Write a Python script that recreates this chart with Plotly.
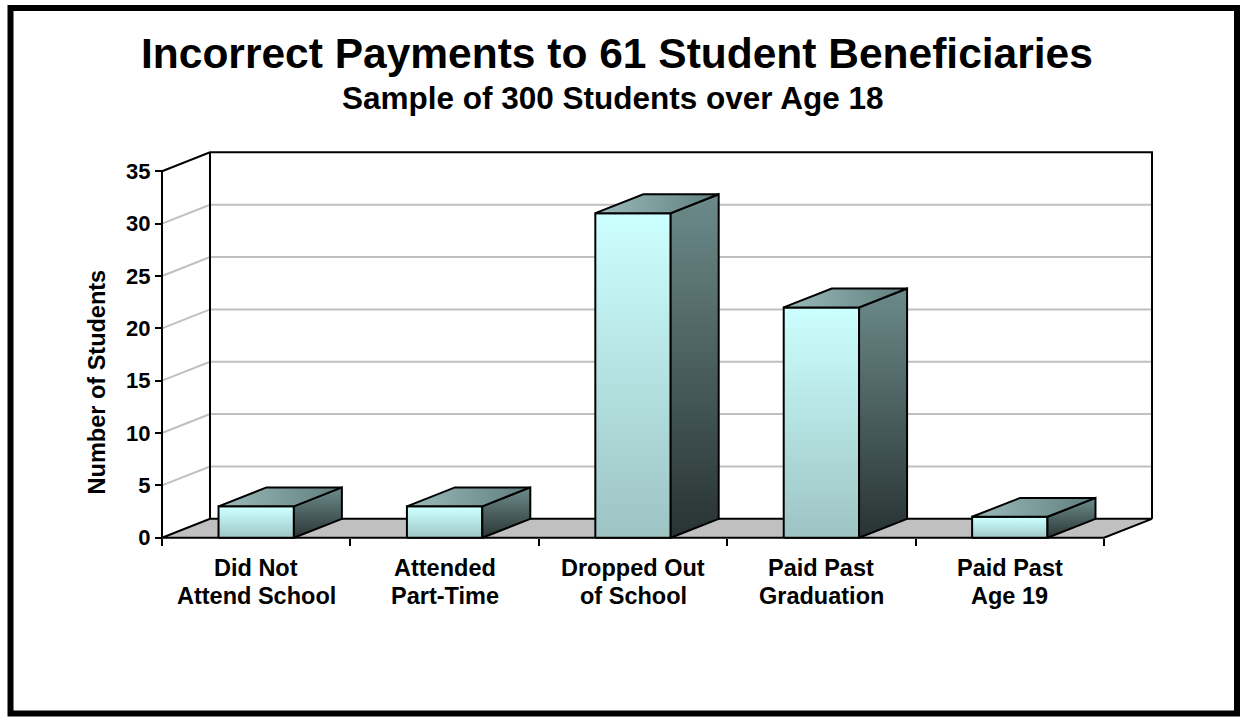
import plotly.graph_objects as go

# ---------------- data ----------------
categories_line1 = ["Did Not", "Attended", "Dropped Out", "Paid Past", "Paid Past"]
categories_line2 = ["Attend School", "Part-Time", "of School", "Graduation", "Age 19"]
students = [3, 3, 31, 22, 2]
y_ticks = [0, 5, 10, 15, 20, 25, 30, 35]
title = "Incorrect Payments to 61 Student Beneficiaries"
subtitle = "Sample of 300 Students over Age 18"
y_title = "Number of Students"

# ---------------- layout geometry (pixels) ----------------
W, H = 1241, 718
X0_PX, CAT_PX = 162, 188.4      # x=0 pixel, pixels per category
Y0_PX, UNIT_PX = 540, 10.514    # y=0 pixel, pixels per unit
DEPTH_X_PX, DEPTH_Y_PX = 48, 19
DOM_L, DOM_R, DOM_T, DOM_B = 150, 1165, 145, 550

N = len(students)
YMAX = y_ticks[-1]
dx = DEPTH_X_PX / CAT_PX
dy = DEPTH_Y_PX / UNIT_PX
BAR_W = 0.4

FONT = "Arial, Liberation Sans, sans-serif"
GRID = "#C0C0C0"

fig = go.Figure()


def poly(xs, ys, fill=None, line_color="black", width=2, grad=None, closed=True):
    if closed:
        xs = list(xs) + [xs[0]]
        ys = list(ys) + [ys[0]]
    kw = dict(x=xs, y=ys, mode="lines", line=dict(color=line_color, width=width),
              hoverinfo="skip", showlegend=False)
    if fill is not None or grad is not None:
        kw["fill"] = "toself"
        if fill is not None:
            kw["fillcolor"] = fill
        if grad is not None:
            kw["fillgradient"] = grad
    fig.add_trace(go.Scatter(**kw))


# floor
poly([0, N, N + dx, dx], [0, 0, dy, dy], fill=GRID)

# gridlines (left wall diagonals + back wall horizontals)
gx, gy = [], []
for v in y_ticks[1:-1]:
    gx += [0, dx, N + dx, None]
    gy += [v, v + dy, v + dy, None]
fig.add_trace(go.Scatter(x=gx, y=gy, mode="lines", line=dict(color=GRID, width=2),
                         hoverinfo="skip", showlegend=False))

# walls outline
fig.add_trace(go.Scatter(
    x=[0, 0, dx, N + dx, N + dx, None, dx, dx],
    y=[0, YMAX, YMAX + dy, YMAX + dy, dy, None, dy, YMAX + dy],
    mode="lines", line=dict(color="black", width=2), hoverinfo="skip", showlegend=False))

# bars
for i, v in enumerate(students):
    x0 = i + (1 - BAR_W) / 2
    x1 = x0 + BAR_W
    # front face
    poly([x0, x1, x1, x0], [0, 0, v, v],
         grad=dict(type="vertical", colorscale=[[0, "#9DC3C3"], [1, "#CCFFFF"]], start=0, stop=v))
    # side face
    poly([x1, x1 + dx, x1 + dx, x1], [0, dy, v + dy, v],
         grad=dict(type="vertical", colorscale=[[0, "#283232"], [1, "#6C8A8A"]], start=0, stop=v + dy))
    # top face
    poly([x0, x1, x1 + dx, x0 + dx], [v, v, v + dy, v + dy],
         grad=dict(type="horizontal", colorscale=[[0, "#9BBBBB"], [1, "#5F7D7D"]], start=x0, stop=x1 + dx))

# category labels
annotations = []
for i in range(N):
    annotations.append(dict(x=i + 0.5, xref="x", y=1 - 570 / H, yref="paper", text=f"<b>{categories_line1[i]}</b>",
                            showarrow=False, xanchor="center", yanchor="middle",
                            font=dict(family=FONT, size=23.5, color="black")))
    annotations.append(dict(x=i + 0.5, xref="x", y=1 - 599 / H, yref="paper", text=f"<b>{categories_line2[i]}</b>",
                            showarrow=False, xanchor="center", yanchor="middle",
                            font=dict(family=FONT, size=23.5, color="black")))

annotations.append(dict(x=617 / W, y=1 - 54 / H, xref="paper", yref="paper", text=f"<b>{title}</b>",
                        showarrow=False, xanchor="center", yanchor="middle",
                        font=dict(family=FONT, size=42.5, color="black")))
annotations.append(dict(x=612.5 / W, y=1 - 98 / H, xref="paper", yref="paper", text=f"<b>{subtitle}</b>",
                        showarrow=False, xanchor="center", yanchor="middle",
                        font=dict(family=FONT, size=31.5, color="black")))
annotations.append(dict(x=97 / W, y=1 - 383 / H, xref="paper", yref="paper", text=f"<b>{y_title}</b>",
                        showarrow=False, xanchor="center", yanchor="middle", textangle=-90,
                        font=dict(family=FONT, size=23.5, color="black")))

x_range = [(DOM_L - X0_PX) / CAT_PX, (DOM_R - X0_PX) / CAT_PX]
y_range = [(Y0_PX - DOM_B) / UNIT_PX, (Y0_PX - DOM_T) / UNIT_PX]

fig.update_layout(
    width=W, height=H,
    margin=dict(l=0, r=0, t=0, b=0),
    paper_bgcolor="white", plot_bgcolor="white",
    showlegend=False,
    annotations=annotations,
    xaxis=dict(domain=[DOM_L / W, DOM_R / W], range=x_range, showgrid=False, zeroline=False,
               showline=False, tickvals=list(range(N + 1)), ticks="outside", ticklen=7,
               tickwidth=2, tickcolor="black", showticklabels=False,
               anchor="free", position=1 - Y0_PX / H, fixedrange=True),
    yaxis=dict(domain=[1 - DOM_B / H, 1 - DOM_T / H], range=y_range, showgrid=False, zeroline=False,
               showline=False, tickvals=y_ticks, ticks="outside", ticklen=7, tickwidth=2,
               tickcolor="black", tickfont=dict(family=FONT, size=22, color="black", weight="bold"),
               anchor="free", position=X0_PX / W, fixedrange=True),
    shapes=[dict(type="rect", xref="paper", yref="paper", x0=10.5 / W, x1=1237 / W,
                 y0=1 - 716.5 / H, y1=1 - 8 / H, line=dict(color="black", width=6))],
)

fig.write_html("out.html")
